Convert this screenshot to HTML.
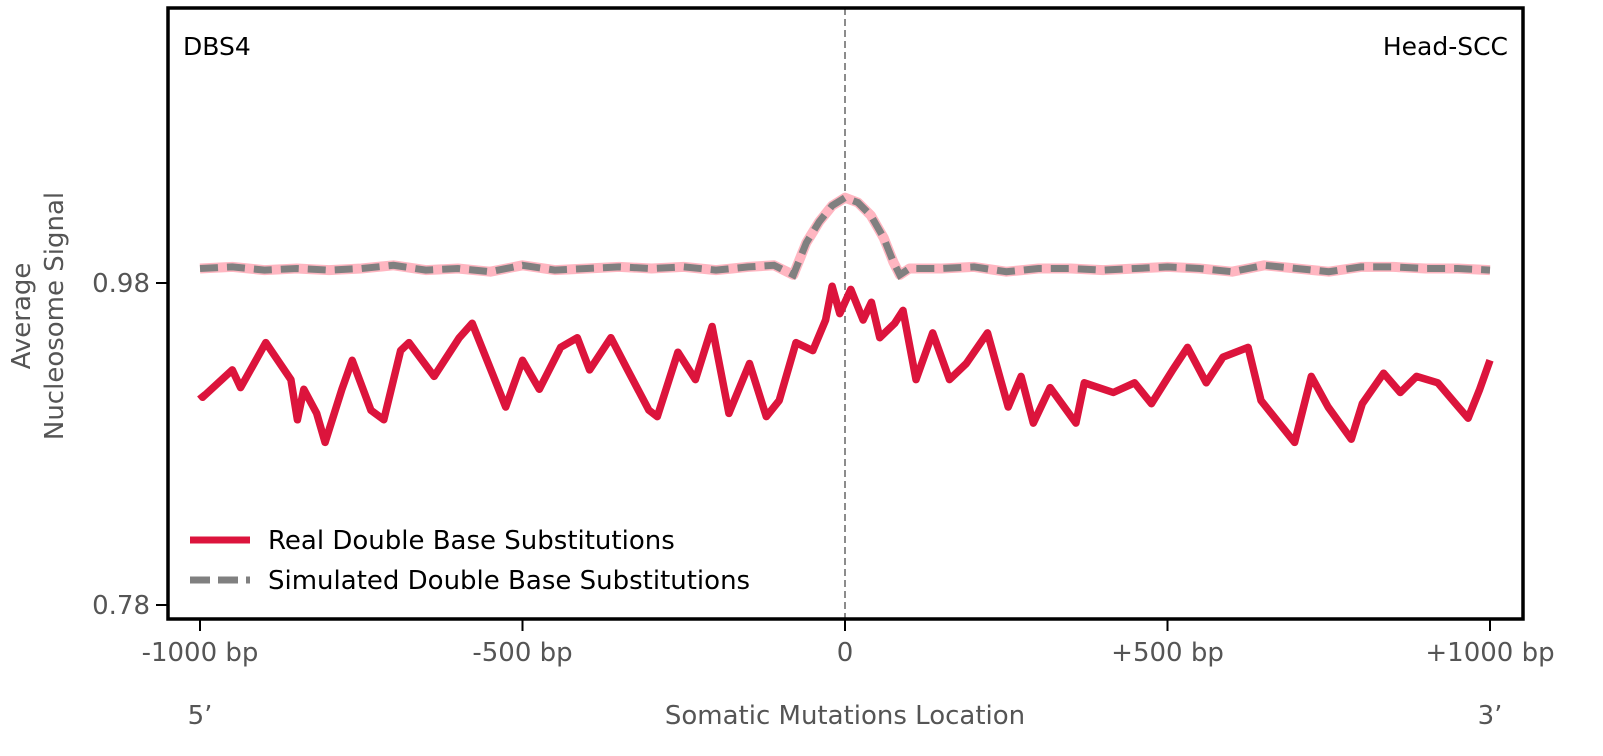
<!DOCTYPE html>
<html><head><meta charset="utf-8"><style>
body{margin:0;background:#fff;}
svg{display:block;font-family:"DejaVu Sans","Liberation Sans",sans-serif;}
</style></head><body>
<svg id="chart" width="1603" height="756">
<rect x="168" y="8" width="1355" height="611" fill="#fff"/>
<g id="marks"></g>
<rect x="168" y="8" width="1355" height="611" fill="none" stroke="#000" stroke-width="3.5"/>
<text x="183" y="55" font-size="25" fill="#000">DBS4</text>
<text x="1508" y="55" font-size="25" fill="#000" text-anchor="end">Head-SCC</text>
<g id="ticks"></g>
<text x="200" y="724" font-size="26" fill="#555" text-anchor="middle">5’</text>
<text x="1490" y="724" font-size="26" fill="#555" text-anchor="middle">3’</text>
<text x="845" y="724" font-size="26" fill="#555" text-anchor="middle">Somatic Mutations Location</text>
<text transform="translate(38,316) rotate(-90)" font-size="26" fill="#555" text-anchor="middle"><tspan x="0" dy="-8">Average</tspan><tspan x="0" dy="33">Nucleosome Signal</tspan></text>
<g>
<line x1="190" y1="540" x2="250" y2="540" stroke="#dc143c" stroke-width="7"/>
<text x="268" y="549" font-size="26" fill="#000">Real Double Base Substitutions</text>
<line x1="190" y1="580" x2="250" y2="580" stroke="#808080" stroke-width="7" stroke-dasharray="20 8"/>
<text x="268" y="589" font-size="26" fill="#000">Simulated Double Base Substitutions</text>
</g>
</svg>
<script>
const realBp=[-1000,-996,-950,-937,-898,-859,-849,-839,-819,-806,-780,-764,-735,-715,-689,-676,-637,-598,-578,-545,-526,-500,-474,-441,-415,-396,-363,-337,-304,-291,-259,-232,-206,-180,-148,-122,-102,-76,-50,-30,-20,-8,9,28,41,54,77,90,110,136,162,188,221,253,273,292,318,358,371,416,449,475,508,531,560,586,625,645,697,723,749,785,802,835,861,886,919,951,966,984,1000];
const realVal=[0.911,0.909,0.926,0.915,0.943,0.920,0.895,0.914,0.899,0.881,0.914,0.932,0.901,0.895,0.938,0.943,0.922,0.946,0.955,0.922,0.903,0.932,0.914,0.940,0.946,0.926,0.946,0.926,0.901,0.897,0.937,0.920,0.953,0.899,0.930,0.897,0.907,0.943,0.938,0.957,0.978,0.961,0.976,0.957,0.968,0.946,0.955,0.963,0.920,0.949,0.920,0.930,0.949,0.903,0.922,0.893,0.915,0.893,0.918,0.912,0.918,0.905,0.926,0.940,0.918,0.934,0.940,0.907,0.881,0.922,0.903,0.883,0.905,0.924,0.912,0.922,0.918,0.903,0.896,0.914,0.932];
const simBp=[-1000,-950,-900,-850,-800,-750,-700,-650,-600,-550,-500,-450,-400,-350,-300,-250,-200,-150,-110,-80,-60,-40,-20,0,20,40,60,75,85,100,150,200,250,300,350,400,450,500,550,600,650,700,750,800,850,900,950,1000];
const simVal=[0.989,0.990,0.988,0.989,0.988,0.989,0.991,0.988,0.989,0.987,0.991,0.988,0.989,0.990,0.989,0.990,0.988,0.990,0.991,0.985,1.005,1.018,1.028,1.033,1.030,1.022,1.008,0.993,0.985,0.989,0.989,0.990,0.987,0.989,0.989,0.988,0.989,0.990,0.989,0.987,0.991,0.989,0.987,0.990,0.990,0.989,0.989,0.988];
const xTickVals=[-1000,-500,0,500,1000];
const xTickLabels=["-1000 bp","-500 bp","0","+500 bp","+1000 bp"];
const yTickVals=[0.98,0.78];
const yTickLabels=["0.98","0.78"];
const X=b=>845+b*0.645;
const Y=v=>283-(v-0.98)*1610;
const NS="http://www.w3.org/2000/svg";
const marks=document.getElementById('marks'),ticks=document.getElementById('ticks');
function mk(tag,attrs,parent){const e=document.createElementNS(NS,tag);for(const k in attrs)e.setAttribute(k,attrs[k]);parent.appendChild(e);return e;}
const vl=mk('line',{x1:X(0),x2:X(0),y1:8,y2:619,stroke:'#808080','stroke-width':1.8,'stroke-dasharray':'7 4'},marks);


const pts=(bs,vs)=>bs.map((b,i)=>X(b).toFixed(1)+','+Y(vs[i]).toFixed(1)).join(' ');
const simU=mk('polyline',{points:pts(simBp,simVal),fill:'none',stroke:'#ffb6c1','stroke-width':10,'stroke-linejoin':'round'},marks);


const sim=mk('polyline',{points:pts(simBp,simVal),fill:'none',stroke:'#808080','stroke-width':7,'stroke-dasharray':'18 9'},marks);


const real=mk('polyline',{points:pts(realBp,realVal),fill:'none',stroke:'#dc143c','stroke-width':7.5,'stroke-linejoin':'round'},marks);


xTickVals.forEach((v,i)=>{
 const t=mk('line',{x1:X(v),x2:X(v),y1:619,y2:631,stroke:'#000','stroke-width':2},ticks);
 
 
 const l=mk('text',{x:X(v),y:661,'font-size':26,fill:'#555','text-anchor':'middle'},ticks);
 l.textContent=xTickLabels[i];
 
 
});
yTickVals.forEach((v,i)=>{
 const t=mk('line',{x1:156,x2:168,y1:Y(v),y2:Y(v),stroke:'#000','stroke-width':2},ticks);
 
 
 const l=mk('text',{x:150,y:Y(v)+9,'font-size':26,fill:'#555','text-anchor':'end'},ticks);
 l.textContent=yTickLabels[i];
 
 
});
</script>
</body></html>
